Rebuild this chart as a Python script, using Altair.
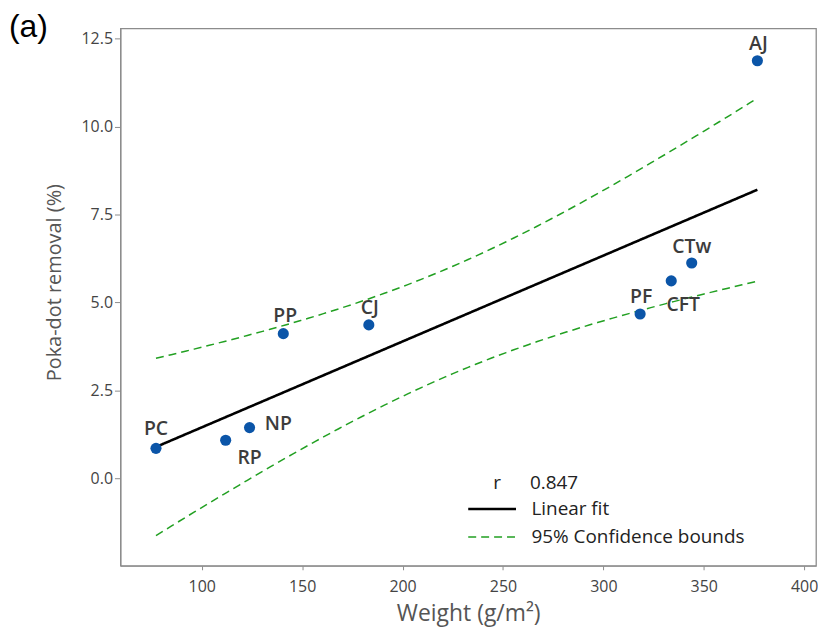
import altair as alt
import numpy as np
import pandas as pd

# ---- data ----
names = ["PC", "RP", "NP", "PP", "CJ", "PF", "CFT", "CTw", "AJ"]
weight = [77.2, 111.9, 123.8, 140.6, 183.2, 318.3, 333.8, 344.0, 376.7]
removal = [0.85, 1.08, 1.44, 4.11, 4.36, 4.67, 5.61, 6.12, 11.87]
x_ticks = [100, 150, 200, 250, 300, 350, 400]
y_ticks = [0.0, 2.5, 5.0, 7.5, 10.0, 12.5]
r_text = "0.847"
series_names = ["Linear fit", "95% Confidence bounds"]
t_crit = 2.365  # t(0.975, df=7)

# ---- label placement (style) ----
label_offsets = {
    "PC": (0, -19), "RP": (24, 18), "NP": (29, -4), "PP": (2, -18),
    "CJ": (1, -17), "PF": (1, -17), "CFT": (12, 24), "CTw": (0, -16),
    "AJ": (1, -17),
}

FONT = "Open Sans"

# ---- least-squares fit and 95% confidence band of the mean ----
x = np.array(weight)
y = np.array(removal)
n = len(x)
slope, intercept = np.polyfit(x, y, 1)
resid = y - (intercept + slope * x)
s = np.sqrt((resid ** 2).sum() / (n - 2))
sxx = ((x - x.mean()) ** 2).sum()
xs = np.linspace(x.min(), x.max(), 80)
fit = intercept + slope * xs
hw = t_crit * s * np.sqrt(1.0 / n + (xs - x.mean()) ** 2 / sxx)

lines = pd.concat([
    pd.DataFrame({"w": xs, "v": fit, "series": series_names[0], "grp": "fit"}),
    pd.DataFrame({"w": xs, "v": fit + hw, "series": series_names[1], "grp": "upper"}),
    pd.DataFrame({"w": xs, "v": fit - hw, "series": series_names[1], "grp": "lower"}),
])
pts = pd.DataFrame({"name": names, "w": weight, "v": removal})

xscale = alt.Scale(domain=[59.5, 405.9], nice=False, zero=False)
yscale = alt.Scale(domain=[-2.49, 12.79], nice=False, zero=False)

xaxis = alt.Axis(values=x_ticks, format="d", title="Weight (g/m²)", grid=False,
                 labelFontSize=16, labelColor="#444444", labelFont=FONT,
                 tickSize=4, tickColor="#8c8c8c", labelPadding=9,
                 domainColor="#8c8c8c", titleFont=FONT, titleFontSize=23,
                 titleFontWeight="normal", titleColor="#555555", titlePadding=8)
yaxis = alt.Axis(values=y_ticks, format=".1f", title="Poka-dot removal (%)", grid=False,
                 labelFontSize=16, labelColor="#444444", labelFont=FONT,
                 tickSize=6, tickColor="#8c8c8c", labelPadding=2,
                 domainColor="#8c8c8c", titleFont=FONT, titleFontSize=20,
                 titleFontWeight="normal", titleColor="#555555",
                 titleX=-66, titleY=255, titleAlign="center", titleBaseline="middle")

line_layer = alt.Chart(lines).mark_line().encode(
    x=alt.X("w:Q", scale=xscale, axis=xaxis),
    y=alt.Y("v:Q", scale=yscale, axis=yaxis),
    detail="grp:N",
    color=alt.Color("series:N", title=None,
                    scale=alt.Scale(domain=series_names, range=["#000000", "#22a022"])),
    strokeDash=alt.StrokeDash("series:N", title=None,
                              scale=alt.Scale(domain=series_names, range=[[1, 0], [8, 5]])),
    strokeWidth=alt.StrokeWidth("series:N", title=None,
                                scale=alt.Scale(domain=series_names, range=[2.6, 1.5])),
)

point_layer = alt.Chart(pts).mark_circle(size=125, opacity=1, color="#0b55a8").encode(
    x=alt.X("w:Q", scale=xscale),
    y=alt.Y("v:Q", scale=yscale),
)

label_layers = []
for nm in names:
    dx, dy = label_offsets[nm]
    label_layers.append(
        alt.Chart(pts).transform_filter(alt.datum.name == nm).mark_text(
            dx=dx, dy=dy, font=FONT, fontSize=19.5, fontWeight=600,
            color="#3c3c3c", align="center", baseline="middle",
        ).encode(x=alt.X("w:Q", scale=xscale), y=alt.Y("v:Q", scale=yscale), text="name:N")
    )

ann = pd.DataFrame({"r": ["r"], "val": [r_text], "tag": ["(a)"]})
r_layer = alt.Chart(ann).mark_text(font=FONT, fontSize=19, color="#222222",
                                   align="center", baseline="middle").encode(
    x=alt.value(378.5), y=alt.value(457), text="r:N")
rv_layer = alt.Chart(ann).mark_text(font=FONT, fontSize=19, color="#222222",
                                    align="left", baseline="middle").encode(
    x=alt.value(411.5), y=alt.value(457), text="val:N")
tag_layer = alt.Chart(ann).mark_text(font="Liberation Sans", fontSize=32, color="#000000",
                                     align="left", baseline="middle").encode(
    x=alt.value(-112), y=alt.value(-1), text="tag:N")

chart = alt.layer(line_layer, point_layer, *label_layers, r_layer, rv_layer, tag_layer).properties(
    width=699, height=540,
    autosize=alt.AutoSizeParams(type="none"),
    padding={"left": 113, "top": 19, "right": 2, "bottom": 60},
).configure_view(
    stroke="#8c8c8c", strokeWidth=1.3,
).configure_legend(
    orient="none", legendX=348, legendY=469, padding=0,
    symbolType="stroke", symbolSize=2304, clipHeight=28, rowPadding=0,
    labelOffset=14, labelFont=FONT, labelFontSize=19, labelColor="#222222",
    labelLimit=400,
)

chart.save("out.html", embed_options={"renderer": "svg", "actions": False})
